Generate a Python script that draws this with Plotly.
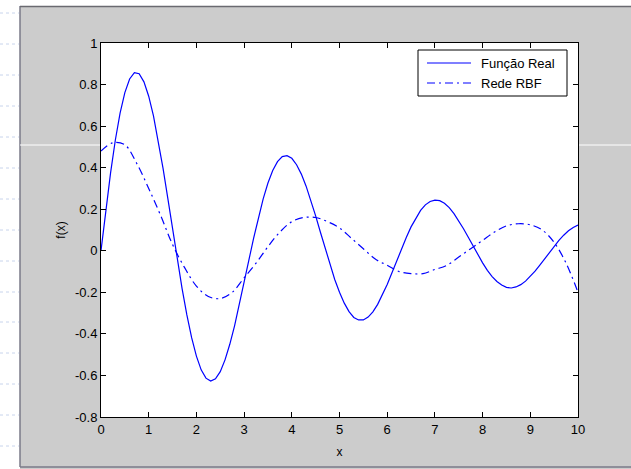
import plotly.graph_objects as go

# ---- data ----
x_real = [round(0.1 * i, 1) for i in range(101)]
y_real = [0.000, 0.195, 0.374, 0.532, 0.662, 0.761, 0.827, 0.857, 0.852, 0.813,
          0.744, 0.649, 0.531, 0.398, 0.253, 0.105, -0.042, -0.182, -0.309, -0.418,
          -0.507, -0.573, -0.613, -0.627, -0.616, -0.582, -0.525, -0.450, -0.361, -0.260,
          -0.153, -0.045, 0.061, 0.161, 0.250, 0.326, 0.386, 0.429, 0.453, 0.458,
          0.445, 0.414, 0.369, 0.311, 0.243, 0.168, 0.089, 0.010, -0.067, -0.138,
          -0.200, -0.252, -0.293, -0.321, -0.333, -0.333, -0.319, -0.294, -0.258, -0.213,
          -0.162, -0.106, -0.048, 0.010, 0.064, 0.115, 0.158, 0.194, 0.221, 0.237,
          0.244, 0.241, 0.229, 0.208, 0.179, 0.145, 0.106, 0.065, 0.023, -0.019,
          -0.058, -0.094, -0.124, -0.148, -0.165, -0.176, -0.179, -0.174, -0.163, -0.146,
          -0.124, -0.098, -0.069, -0.038, -0.008, 0.022, 0.050, 0.075, 0.096, 0.112,
          0.124]

x_rbf = [0.0, 0.25, 0.5, 0.75, 1.0, 1.25, 1.5, 1.75, 2.0, 2.25, 2.5, 2.75, 3.0, 3.25,
         3.5, 3.75, 4.0, 4.25, 4.5, 4.75, 5.0, 5.25, 5.5, 5.75, 6.0, 6.25, 6.5, 6.75,
         7.0, 7.25, 7.5, 7.75, 8.0, 8.25, 8.5, 8.75, 9.0, 9.25, 9.5, 9.75, 10.0]
y_rbf = [0.48, 0.52, 0.51, 0.42, 0.30, 0.17, 0.03, -0.08, -0.17, -0.22, -0.23, -0.20,
         -0.13, -0.06, 0.02, 0.09, 0.14, 0.16, 0.16, 0.14, 0.11, 0.06, 0.01, -0.04,
         -0.07, -0.10, -0.11, -0.11, -0.09, -0.07, -0.03, 0.01, 0.05, 0.09, 0.12, 0.13,
         0.125, 0.10, 0.04, -0.06, -0.20]

x_ticks = [0, 1, 2, 3, 4, 5, 6, 7, 8, 9, 10]
x_ticklabels = ["0", "1", "2", "3", "4", "5", "6", "7", "8", "9", "10"]
y_ticks = [-0.8, -0.6, -0.4, -0.2, 0, 0.2, 0.4, 0.6, 0.8, 1]
y_ticklabels = ["-0.8", "-0.6", "-0.4", "-0.2", "0", "0.2", "0.4", "0.6", "0.8", "1"]

series_names = ["Função Real", "Rede RBF"]

# ---- geometry (pixels) ----
W, H = 631, 469
L, R, T, B = 101, 578, 43, 417
pw, ph = R - L, B - T


def px(xp):
    return (xp - L) / pw


def py(yp):
    return (B - yp) / ph


GRAY = "#cccccc"
BLUE = "#0000ff"
FONT = "Liberation Sans, Arial, sans-serif"
DASHDOT = "8px,4px,2px,4px"

fig = go.Figure()
fig.add_trace(go.Scatter(x=x_real, y=y_real, mode="lines", name=series_names[0],
                         line=dict(color=BLUE, width=1.2), showlegend=False))
fig.add_trace(go.Scatter(x=x_rbf, y=y_rbf, mode="lines", name=series_names[1],
                         line=dict(color=BLUE, width=1.2, dash=DASHDOT, shape="spline"),
                         showlegend=False))

shapes = []
# white strips left and top (outside figure window)
shapes.append(dict(type="rect", xref="paper", yref="paper", x0=px(0), x1=px(20),
                   y0=py(H), y1=py(0), fillcolor="white", line_width=0, layer="below"))
shapes.append(dict(type="rect", xref="paper", yref="paper", x0=px(0), x1=px(W),
                   y0=py(6), y1=py(0), fillcolor="white", line_width=0, layer="below"))
# faint dotted guide lines in left strip
for yy in [13, 44, 75, 106, 137, 168, 199, 230, 261, 292, 322, 353, 384, 415, 446]:
    shapes.append(dict(type="line", xref="paper", yref="paper", x0=px(0), x1=px(19),
                       y0=py(yy), y1=py(yy), line=dict(color="#c8d4ec", width=1, dash="dot"),
                       layer="below"))
# window borders
shapes.append(dict(type="line", xref="paper", yref="paper", x0=px(20), x1=px(20),
                   y0=py(6), y1=py(467), line=dict(color="#7a7a88", width=1.5), layer="below"))
shapes.append(dict(type="line", xref="paper", yref="paper", x0=px(20), x1=px(W),
                   y0=py(6.5), y1=py(6.5), line=dict(color="#6a6a70", width=1.5), layer="below"))
shapes.append(dict(type="line", xref="paper", yref="paper", x0=px(20), x1=px(W),
                   y0=py(467), y1=py(467), line=dict(color="#7a7a88", width=1.5), layer="below"))
# horizontal artifact line
shapes.append(dict(type="line", xref="paper", yref="paper", x0=px(20), x1=px(W),
                   y0=py(145), y1=py(145), line=dict(color="white", width=1), layer="below"))

# legend box drawn by hand (matches MATLAB layout)
shapes.append(dict(type="rect", xref="paper", yref="paper", x0=px(418), x1=px(567),
                   y0=py(96), y1=py(50), fillcolor="white",
                   line=dict(color="black", width=1), layer="above"))
legend_rows = [63, 83]
legend_dash = ["solid", DASHDOT]
annotations = []
for name, yy, dsh in zip(series_names, legend_rows, legend_dash):
    shapes.append(dict(type="line", xref="paper", yref="paper", x0=px(427), x1=px(471),
                       y0=py(yy), y1=py(yy), line=dict(color=BLUE, width=1.2, dash=dsh),
                       layer="above"))
    annotations.append(dict(xref="paper", yref="paper", x=px(479), y=py(yy), text=name,
                            showarrow=False, xanchor="left", yanchor="middle",
                            font=dict(family=FONT, size=13, color="black")))

fig.update_layout(
    width=W, height=H,
    margin=dict(l=L, r=W - R, t=T, b=H - B, pad=0),
    paper_bgcolor=GRAY, plot_bgcolor="white",
    font=dict(family=FONT, size=13, color="black"),
    showlegend=False,
    shapes=shapes,
    annotations=annotations,
    xaxis=dict(range=[0, 10], tickvals=x_ticks, ticktext=x_ticklabels,
               ticks="inside", ticklen=5, tickcolor="black", showline=True,
               linecolor="black", linewidth=1, mirror="ticks", showgrid=False,
               zeroline=False, title=dict(text="x", standoff=12, font=dict(size=12))),
    yaxis=dict(range=[-0.8, 1], tickvals=y_ticks, ticktext=y_ticklabels,
               ticks="inside", ticklen=5, tickcolor="black", showline=True,
               linecolor="black", linewidth=1, mirror="ticks", showgrid=False,
               zeroline=False, title=dict(text="f(x)", standoff=6, font=dict(size=12))),
)

fig.write_html("out.html")
